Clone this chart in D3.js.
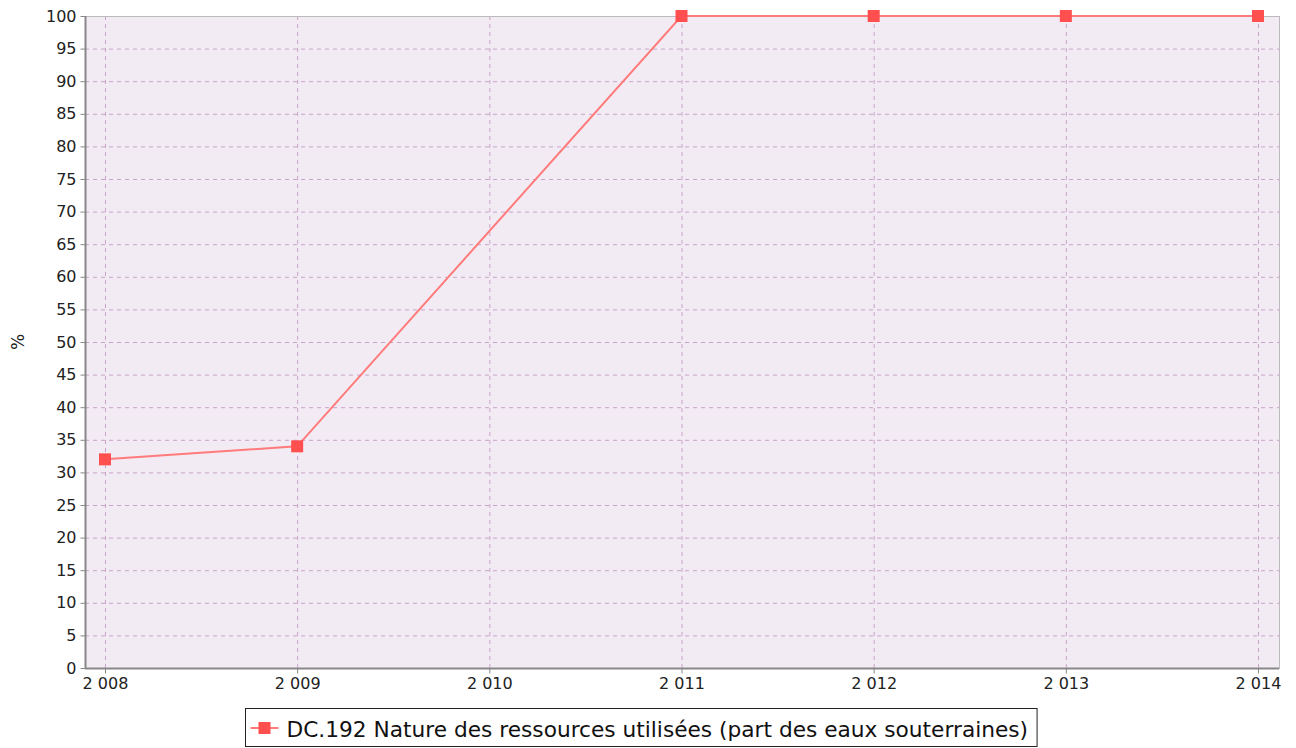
<!DOCTYPE html>
<meta charset="utf-8">
<title>DC.192</title>
<script src="https://d3js.org/d3.v7.min.js"></script>
<style>
    body { margin: 0; background: #fff; }
    text { font-family: "DejaVu Sans", sans-serif; }
</style>
<body>
<script>
    // Data
    const years  = [2008, 2009, 2010, 2011, 2012, 2013, 2014];
    const values = [32, 34, null, 100, 100, 100, 100];
    const yTicks = d3.range(0, 101, 5);
    const seriesName = "DC.192 Nature des ressources utilisées (part des eaux souterraines)";

    const width = 1296, height = 748;
    const plot = { left: 85, right: 1279, top: 16, bottom: 668 };

    const xScale = d3.scaleLinear().domain([2008, 2014]).range([105, 1258]);
    const yScale = d3.scaleLinear().domain([0, 100]).range([plot.bottom, plot.top]);

    const svg = d3.select("body").append("svg")
        .attr("width", width)
        .attr("height", height);

    // plot background
    svg.append("rect")
        .attr("x", plot.left).attr("y", plot.top)
        .attr("width", plot.right - plot.left)
        .attr("height", plot.bottom - plot.top)
        .attr("fill", "#f3ebf3");

    // grid
    const grid = svg.append("g").attr("stroke", "#c9a3c9").attr("stroke-dasharray", "4,4").attr("stroke-width", 1);
    grid.selectAll(".gy").data(yTicks).enter().append("line")
        .attr("x1", plot.left).attr("x2", plot.right)
        .attr("y1", d => yScale(d) + 0.5).attr("y2", d => yScale(d) + 0.5);
    grid.selectAll(".gx").data(years).enter().append("line")
        .attr("y1", plot.top).attr("y2", plot.bottom)
        .attr("x1", d => xScale(d) + 0.5).attr("x2", d => xScale(d) + 0.5);

    // plot outline
    svg.append("rect")
        .attr("x", plot.left + 0.5).attr("y", plot.top + 0.5)
        .attr("width", plot.right - plot.left)
        .attr("height", plot.bottom - plot.top)
        .attr("fill", "none").attr("stroke", "#bbbbbb");

    // axes
    const fmt = d => d3.format(",")(d).replace(",", " ");
    const xAxis = d3.axisBottom(xScale).tickValues(years).tickFormat(fmt).tickSize(5).tickPadding(4);
    const yAxis = d3.axisLeft(yScale).tickValues(yTicks).tickSize(5).tickPadding(4);

    const gx = svg.append("g")
        .attr("transform", "translate(0," + (plot.bottom + 0.5) + ")")
        .call(xAxis);
    gx.select(".domain").attr("d", "M" + plot.left + ",0H" + plot.right);

    const gy = svg.append("g")
        .attr("transform", "translate(" + (plot.left + 0.5) + ",0)")
        .call(yAxis);
    gy.select(".domain").attr("d", "M0," + plot.top + "V" + plot.bottom);

    [gx, gy].forEach(g => {
        g.select(".domain").attr("stroke", "#888888").attr("stroke-width", 2);
        g.selectAll(".tick line").attr("stroke", "#888888");
        g.selectAll(".tick text").attr("fill", "#222").style("font-size", "16px")
            .attr("font-family", "DejaVu Sans, sans-serif");
    });

    // y label
    svg.append("text")
        .attr("transform", "translate(24," + ((plot.top + plot.bottom) / 2) + ") rotate(-90)")
        .attr("text-anchor", "middle")
        .style("font-size", "17px")
        .attr("fill", "#222")
        .text("%");

    // series
    const pts = years.map((y, i) => ({ x: y, v: values[i] })).filter(d => d.v != null);
    const line = d3.line().x(d => xScale(d.x)).y(d => yScale(d.v));

    svg.append("path")
        .datum(pts)
        .attr("d", line)
        .attr("fill", "none")
        .attr("stroke", "#ff7b7b")
        .attr("stroke-width", 2);

    svg.append("g").selectAll("rect").data(pts).enter().append("rect")
        .attr("x", d => xScale(d.x) - 6)
        .attr("y", d => yScale(d.v) - 6)
        .attr("width", 12).attr("height", 12)
        .attr("fill", "#ff4f4f");

    // legend
    const leg = svg.append("g").attr("transform", "translate(245.5,708.5)");
    const legText = leg.append("text")
        .attr("x", 41).attr("y", 28)
        .style("font-size", "21.7px")
        .attr("fill", "#111")
        .text(seriesName);
    const tw = legText.node().getComputedTextLength();
    leg.insert("rect", "text")
        .attr("width", tw + 50).attr("height", 38)
        .attr("fill", "#fff").attr("stroke", "#222");
    leg.append("line").attr("x1", 5).attr("x2", 33).attr("y1", 19.5).attr("y2", 19.5)
        .attr("stroke", "#ff7b7b").attr("stroke-width", 2);
    leg.append("rect").attr("x", 13).attr("y", 13.5).attr("width", 12).attr("height", 12)
        .attr("fill", "#ff4f4f");
</script>
</body>
